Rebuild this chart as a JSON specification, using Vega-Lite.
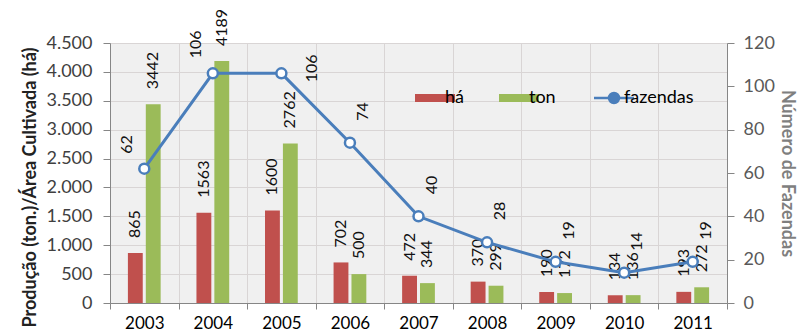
{
  "$schema": "https://vega.github.io/schema/vega-lite/v6.json",
  "width": 617,
  "height": 260,
  "autosize": "none",
  "padding": {"left": 110, "top": 43, "right": 73, "bottom": 32},
  "config": {
    "locale": {"number": {"decimal": ",", "thousands": ".", "grouping": [3], "currency": ["R$", ""]}},
    "font": "Lato",
    "view": {"fill": "#f0f0f0", "stroke": null},
    "axis": {
      "domainColor": "#868686",
      "tickColor": "#868686",
      "gridColor": "#d9d5d5",
      "labelFont": "Lato",
      "labelFontSize": 18,
      "titleFont": "Lato"
    },
    "text": {"font": "Lato", "fontSize": 16, "fill": "#111111"}
  },
  "data": {
    "values": [
      {"ano": 2003, "há": 865, "ton": 3442, "fazendas": 62},
      {"ano": 2004, "há": 1563, "ton": 4189, "fazendas": 106},
      {"ano": 2005, "há": 1600, "ton": 2762, "fazendas": 106},
      {"ano": 2006, "há": 702, "ton": 500, "fazendas": 74},
      {"ano": 2007, "há": 472, "ton": 344, "fazendas": 40},
      {"ano": 2008, "há": 370, "ton": 299, "fazendas": 28},
      {"ano": 2009, "há": 190, "ton": 172, "fazendas": 19},
      {"ano": 2010, "há": 134, "ton": 136, "fazendas": 14},
      {"ano": 2011, "há": 193, "ton": 272, "fazendas": 19}
    ]
  },
  "layer": [
    {
      "transform": [{"fold": ["há", "ton"], "as": ["serie", "valor"]}],
      "encoding": {
        "x": {
          "field": "ano", "type": "nominal",
          "scale": {"type": "band", "paddingInner": 0, "paddingOuter": 0},
          "axis": {"title": null, "labelAngle": 0, "tickBand": "extent", "grid": true, "tickSize": 6, "labelPadding": 6, "labelFontSize": 17, "labelColor": "#000000"}
        },
        "xOffset": {"field": "serie", "type": "nominal", "scale": {"domain": ["há", "ton"], "paddingInner": 0.17, "paddingOuter": 1.05}},
        "y": {
          "field": "valor", "type": "quantitative",
          "scale": {"domain": [0, 4500], "nice": false},
          "axis": {
            "title": "Produção (ton.)/Área Cultivada (há)",
            "values": [0, 500, 1000, 1500, 2000, 2500, 3000, 3500, 4000, 4500],
            "format": ",d",
            "grid": true,
            "tickSize": 7,
            "labelPadding": 11,
            "labelColor": "#404040",
            "titleFontSize": 18,
            "titleFontWeight": "bold",
            "titleColor": "#222222",
            "titleAngle": 270,
            "titleAlign": "center",
            "titleBaseline": "bottom",
            "titleX": -71,
            "titleY": 144
          }
        }
      },
      "layer": [
        {
          "mark": {"type": "bar"},
          "encoding": {
            "color": {
              "field": "serie", "type": "nominal",
              "scale": {"domain": ["há", "ton", "fazendas"], "range": ["#C0504D", "#9BBB59", "#4A7EBB"]},
              "legend": {
                "orient": "none", "legendX": 303, "legendY": 46,
                "direction": "horizontal", "title": null, "padding": 0,
                "gridAlign": "none", "columnPadding": 33,
                "symbolOffset": 13, "labelOffset": 1,
                "symbolSize": 1600, "symbolType": "M-1,-0.2H1V0.2H-1Z",
                "labelFontSize": 18, "labelColor": "#000000", "labelFont": "Lato",
                "encode": {
                  "symbols": {
                    "update": {
                      "shape": {"signal": "datum.value === 'fazendas' ? 'M-1,0H-0.25M0.25,0H1M0.25,0A0.25,0.25 0 1 1 -0.25,0A0.25,0.25 0 1 1 0.25,0' : 'M-1,-0.2H1V0.2H-1Z'"},
                      "fill": {"signal": "datum.value === 'fazendas' ? '#ffffff' : datum.value === 'há' ? '#C0504D' : '#9BBB59'"},
                      "stroke": {"signal": "datum.value === 'fazendas' ? '#4A7EBB' : 'transparent'"},
                      "strokeWidth": {"signal": "datum.value === 'fazendas' ? 2.5 : 0"},
                      "opacity": {"value": 1}
                    }
                  }
                }
              }
            }
          }
        },
        {
          "mark": {"type": "text", "angle": 270, "align": "left", "baseline": "middle", "dx": 15},
          "encoding": {"text": {"field": "valor", "type": "quantitative", "format": "d"}}
        }
      ]
    },
    {
      "encoding": {
        "x": {
          "field": "ano", "type": "nominal",
          "scale": {"type": "band", "paddingInner": 0, "paddingOuter": 0},
          "axis": {"title": null, "labelAngle": 0, "tickBand": "extent", "grid": true, "tickSize": 6, "labelPadding": 6, "labelFontSize": 17, "labelColor": "#000000"}
        },
        "y": {
          "field": "fazendas", "type": "quantitative",
          "scale": {"domain": [0, 120], "nice": false},
          "axis": {
            "orient": "right",
            "title": "Número de Fazendas",
            "values": [0, 20, 40, 60, 80, 100, 120],
            "grid": false,
            "tickSize": 7,
            "labelPadding": 9,
            "labelColor": "#595959",
            "titleFontSize": 18,
            "titleFontWeight": "bold",
            "titleColor": "#7f7f7f",
            "titlePadding": 3
          }
        }
      },
      "layer": [
        {
          "mark": {"type": "line", "strokeWidth": 3, "point": {"filled": false, "fill": "#ffffff", "size": 100, "strokeWidth": 2.5}},
          "encoding": {"color": {"datum": "fazendas", "type": "nominal"}}
        },
        {
          "transform": [{"filter": "datum.ano < 2005"}],
          "mark": {"type": "text", "angle": 270, "align": "left", "baseline": "middle", "dx": 15, "dy": -17},
          "encoding": {"text": {"field": "fazendas", "type": "quantitative", "format": "d"}}
        },
        {
          "transform": [{"filter": "datum.ano == 2005"}],
          "mark": {"type": "text", "angle": 270, "align": "left", "baseline": "middle", "dx": -9, "dy": 31},
          "encoding": {"text": {"field": "fazendas", "type": "quantitative", "format": "d"}}
        },
        {
          "transform": [{"filter": "datum.ano > 2005"}],
          "mark": {"type": "text", "angle": 270, "align": "left", "baseline": "middle", "dx": 22, "dy": 13},
          "encoding": {"text": {"field": "fazendas", "type": "quantitative", "format": "d"}}
        }
      ]
    }
  ],
  "resolve": {"scale": {"y": "independent"}}
}
